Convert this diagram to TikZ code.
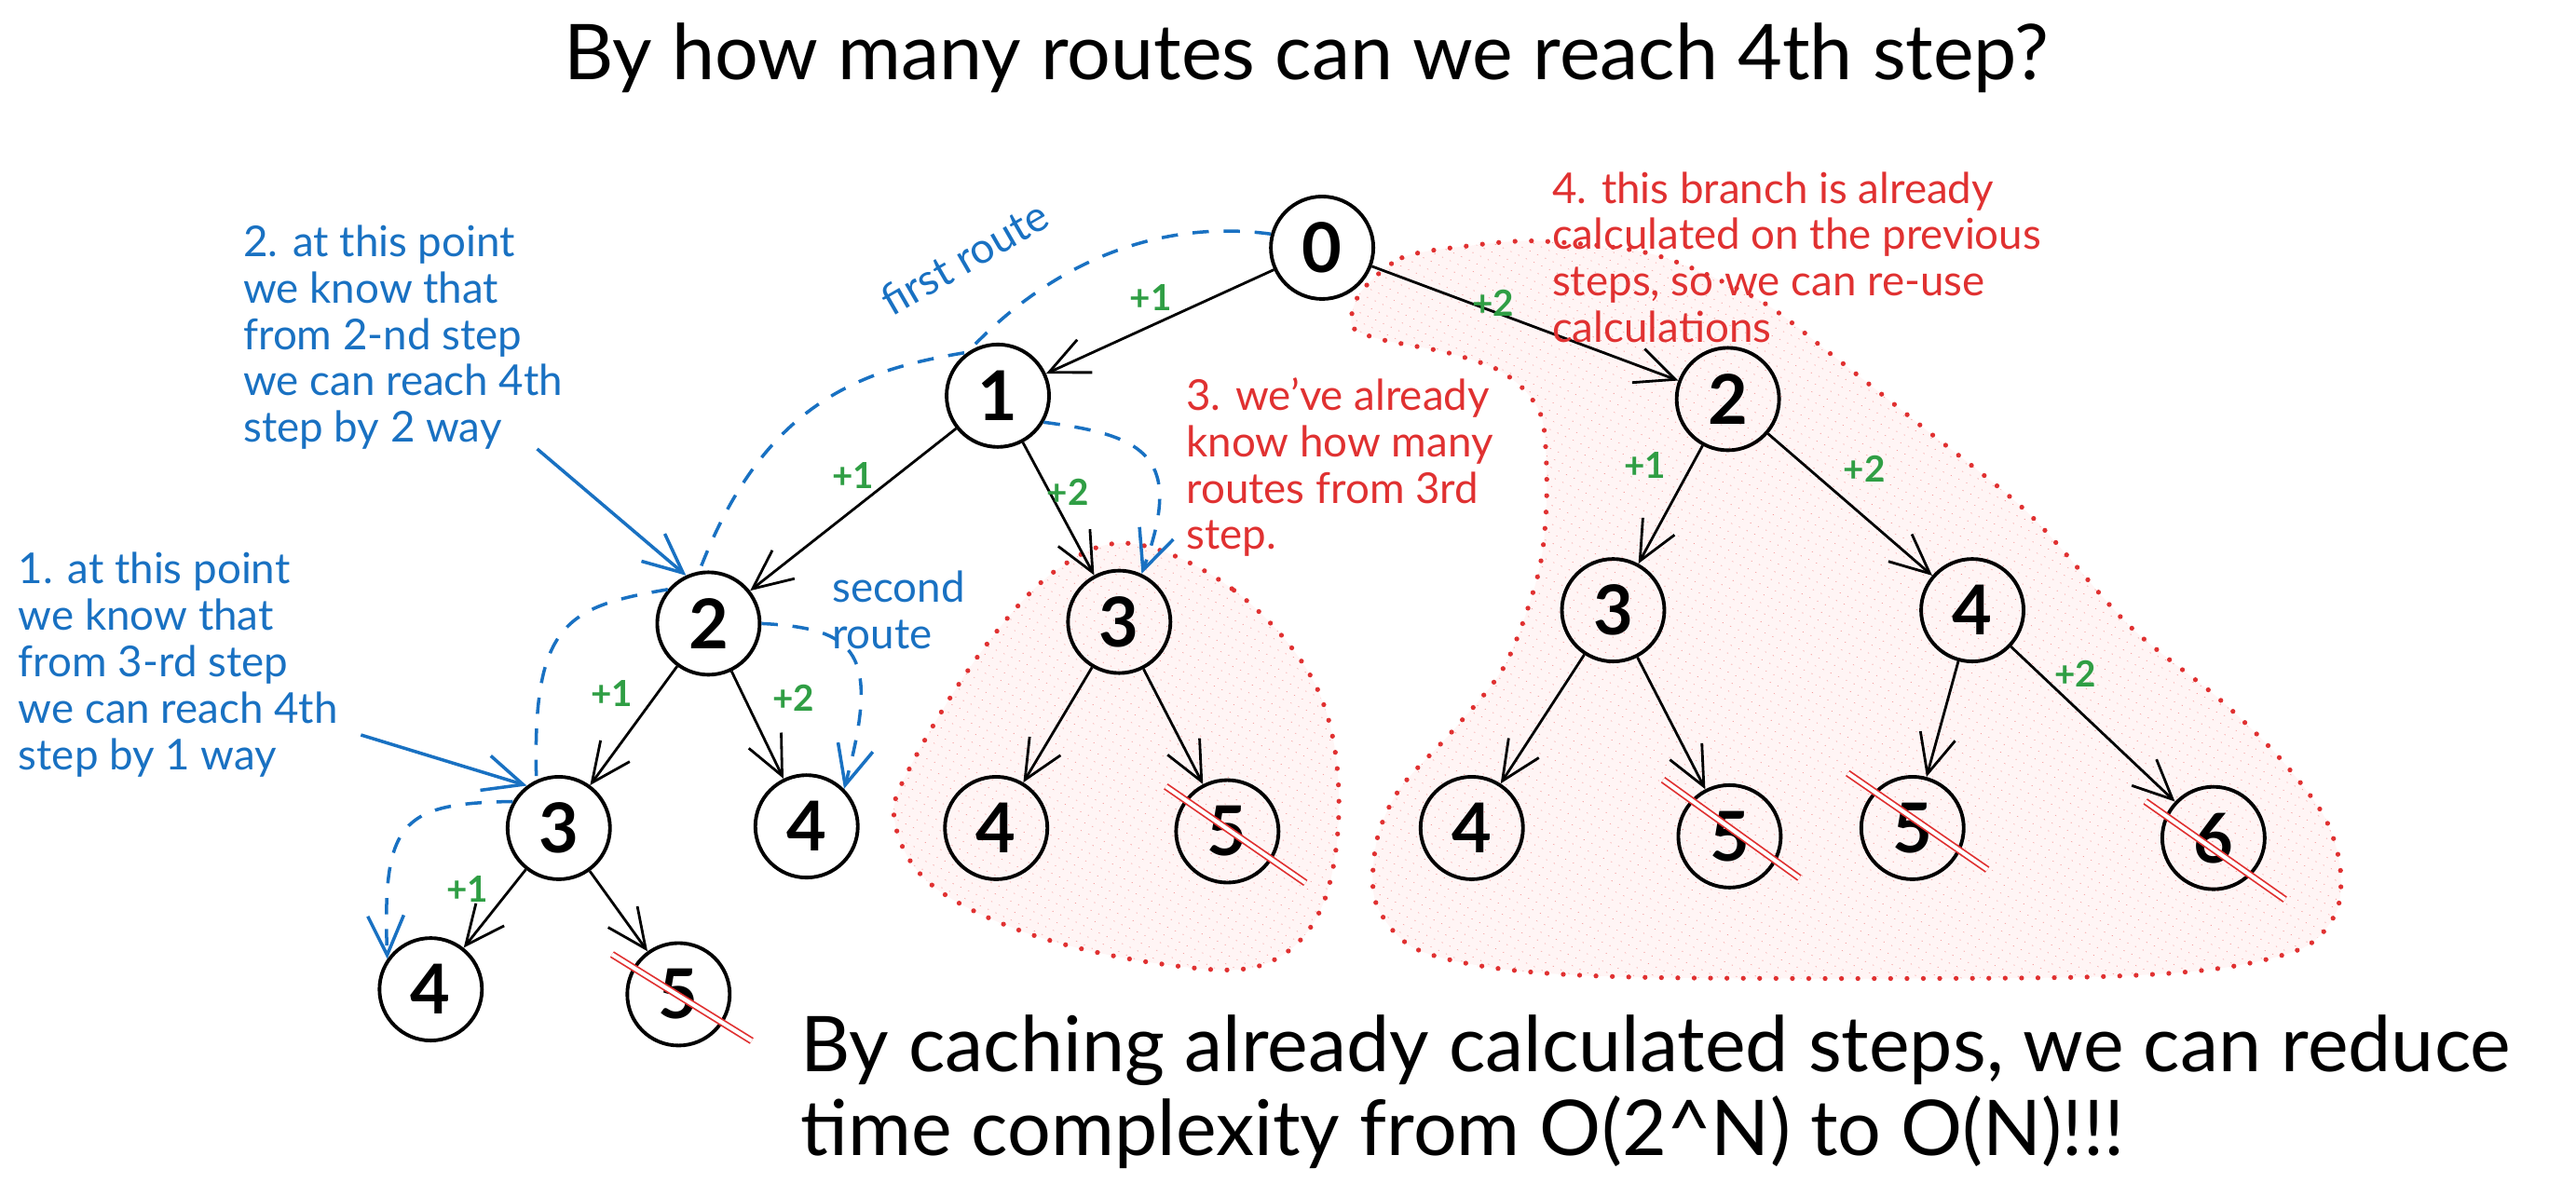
\documentclass[tikz,border=0pt]{standalone}
\usepackage{fontspec}
\setmainfont{Lato}
\usetikzlibrary{arrows.meta,patterns.meta}
\definecolor{exblue}{HTML}{1971C2}
\definecolor{exred}{HTML}{E03131}
\definecolor{exgreen}{HTML}{2F9E44}
\definecolor{exhatch}{HTML}{F59A9A}
\begin{document}
\begin{tikzpicture}[x=0.01785cm, y=-0.01785cm]
                \tikzstyle{every node}+=[inner sep=0pt]
                \tikzstyle{stepnode}=[circle, draw, line width=1.1pt, minimum size=1.1cm, font=\fontsize{21}{21}\selectfont\bfseries]
                \tikzstyle{edge}=[-{Straight Barb[length=12pt,width=11pt]}, line width=0.8pt]
                \tikzstyle{gain}=[text=exgreen, font=\fontsize{11}{11}\selectfont\bfseries]
                \tikzstyle{route}=[exblue, line width=1pt, dash pattern=on 5pt off 4.5pt]
                \tikzstyle{routearrow}=[route, -{Straight Barb[length=12pt,width=11pt]}]
                \tikzstyle{hint}=[exblue, line width=1pt, -{Straight Barb[length=12pt,width=11pt]}]
                \tikzstyle{note}=[font=\fontsize{13}{14.2}\selectfont, align=left, anchor=base west]
                \tikzstyle{cached}=[exred, line width=1.5pt, line cap=round, dash pattern=on 0pt off 5pt, preaction={fill=red!4}, pattern={Lines[angle=65,distance=2.6pt,line width=0.5pt]}, pattern color=exhatch]
                \tikzstyle{strike}=[exred, line width=0.5pt, double=white, double distance=1.2pt]
                \useasboundingbox (0,0) rectangle (1549,719);
                \draw [cached] plot [smooth cycle, tension=0.6] coordinates {(681,327) (742,355) (790,410) (805,476) (795,545) (760,580) (700,580) (620,562) (560,532) (538,494) (548,460) (590,392) (635,343)};
                \draw [cached] plot [smooth cycle, tension=0.5] coordinates {(818,176) (843,155) (882,148) (926,145) (994,153) (1057,180) (1101,213) (1155,256) (1220,309) (1280,376) (1334,420) (1370,455) (1397,490) (1407,520) (1405,548) (1385,570) (1330,583) (1235,588) (1000,588) (905,583) (850,570) (827,542) (828,505) (842,474) (874,439) (905,400) (925,345) (930,300) (928,255) (918,236) (900,222) (870,212) (830,204) (813,196)};
                \node [anchor=base, font=\fontsize{23.5}{26}\selectfont] (title) at (785.5,48) {By how many routes can we reach 4th step?};
                \node [stepnode] (s0) at (795,149) {0};
                \node [stepnode] (s1) at (600,238) {1};
                \node [stepnode] (s2) at (426,375) {2};
                \node [stepnode] (s3) at (336,498) {3};
                \node [stepnode] (s4) at (485,497) {4};
                \node [stepnode] (s34) at (259,595) {4};
                \node [stepnode] (s35) at (408,598) {5};
                \node [stepnode] (m3) at (673,374) {3};
                \node [stepnode] (m4) at (599,498) {4};
                \node [stepnode] (m5) at (738,500) {5};
                \node [stepnode] (r2) at (1039,240) {2};
                \node [stepnode] (r3) at (970,367) {3};
                \node [stepnode] (r4) at (1186,367) {4};
                \node [stepnode] (r34) at (885,498) {4};
                \node [stepnode] (r35) at (1040,503) {5};
                \node [stepnode] (r45) at (1150,498) {5};
                \node [stepnode] (r46) at (1331,504) {6};
                \draw [edge] (s0) -- (s1);
                \node [gain] (g01) at (692,179) {+1};
                \draw [edge] (s0) -- (r2);
                \node [gain] (g0r) at (898,182) {+2};
                \draw [edge] (s1) -- (s2);
                \node [gain] (g12) at (513,286) {+1};
                \draw [edge] (s1) -- (m3);
                \node [gain] (g1m) at (642,296) {+2};
                \draw [edge] (s2) -- (s3);
                \node [gain] (g23) at (368,417) {+1};
                \draw [edge] (s2) -- (s4);
                \node [gain] (g24) at (477,420) {+2};
                \draw [edge] (s3) -- (s34);
                \node [gain] (g34) at (281,535) {+1};
                \draw [edge] (s3) -- (s35);
                \draw [edge] (m3) -- (m4);
                \draw [edge] (m3) -- (m5);
                \draw [edge] (r2) -- (r3);
                \node [gain] (gr23) at (989,280) {+1};
                \draw [edge] (r2) -- (r4);
                \node [gain] (gr24) at (1121,282) {+2};
                \draw [edge] (r3) -- (r34);
                \draw [edge] (r3) -- (r35);
                \draw [edge] (r4) -- (r45);
                \draw [edge] (r4) -- (r46);
                \node [gain] (gr46) at (1248,405) {+2};
                \draw [strike] (s35) ++(-40,-24) -- ++(84,52);
                \draw [strike] (m5) ++(-37,-27) -- ++(84,58);
                \draw [strike] (r35) ++(-40,-34) -- ++(82,59);
                \draw [strike] (r45) ++(-39,-33) -- ++(84,58);
                \draw [strike] (r46) ++(-41,-22) -- ++(84,59);
                \draw [route] (s0.165) .. controls (700,132) and (635,155) .. (s1.125) .. controls (520,222) and (460,240) .. (s2.100);
                \draw [route] (s2.140) .. controls (340,365) and (320,375) .. (s3.115);
                \draw [routearrow] (s3.150) .. controls (240,483) and (230,495) .. (s34.145);
                \draw [routearrow] (s1.-30) .. controls (690,262) and (712,275) .. (m3.65);
                \draw [routearrow] (s2.0) .. controls (515,378) and (530,392) .. (s4.45);
                \node [text=exblue, font=\fontsize{13}{14}\selectfont, rotate=30] (first) at (580,155) {first route};
                \node [note, text=exblue] (second) at (500,390) {second\\route};
                \node [note, text=exblue] (note2) at (146,266) {2. at this point\\we know that\\from 2-nd step\\we can reach 4th\\step by 2 way};
                \node [note, text=exblue] (note1) at (10.7,463) {1. at this point\\we know that\\from 3-rd step\\we can reach 4th\\step by 1 way};
                \node [note, text=exred] (note3) at (713,330.5) {3. we've already\\know how many\\routes from 3rd\\step.};
                \node [note, text=exred] (note4) at (933,206) {4. this branch is already\\calculated on the previous\\steps, so we can re-use\\calculations};
                \coordinate (h2) at (323,270);
                \draw [hint] (h2) -- (s2.115);
                \coordinate (h1) at (217,442);
                \draw [hint] (h1) -- (s3.127);
                \node [anchor=base west, align=left, font=\fontsize{23.5}{25.5}\selectfont] (moral) at (481,695) {By caching already calculated steps, we can reduce\\time complexity from O(2\textasciicircum N) to O(N)!!!};
\end{tikzpicture}
\end{document}
